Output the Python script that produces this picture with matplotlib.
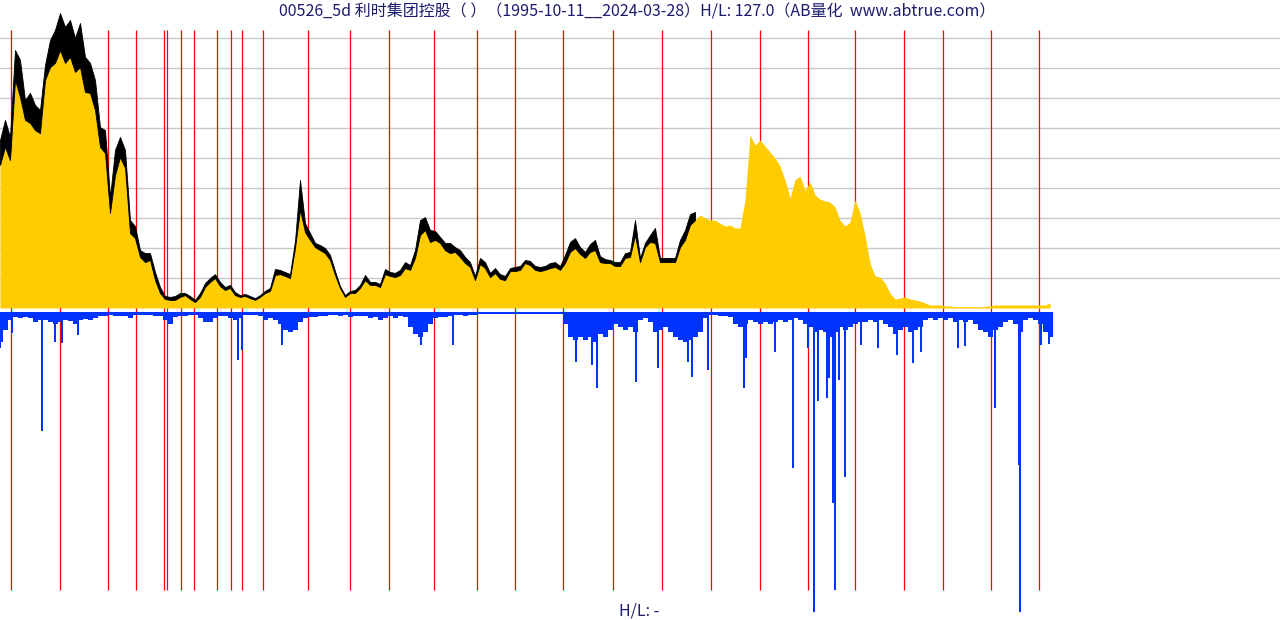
import matplotlib
matplotlib.use("Agg")
import matplotlib.pyplot as plt
import numpy as np

plt.rcParams['font.family'] = ['Noto Sans CJK SC', 'DejaVu Sans']

title = "00526_5d 利时集团控股（ ）（1995-10-11__2024-03-28）H/L: 127.0（AB量化  www.abtrue.com）"

# close price, one sample per bar group (5-day bars, resampled)
close = [
    4.77, 5.37, 4.93, 7.60, 7.03, 6.27, 6.17, 5.93, 5.83, 7.60,
    8.03, 8.17, 8.60, 8.17, 8.37, 7.87, 8.03, 7.20, 7.17, 6.60,
    5.37, 5.17, 3.17, 4.43, 5.03, 4.67, 2.50, 2.33, 1.70, 1.53,
    1.60, 0.93, 0.50, 0.30, 0.27, 0.27, 0.37, 0.43, 0.30, 0.20,
    0.37, 0.70, 0.87, 1.00, 0.73, 0.60, 0.67, 0.43, 0.37, 0.40,
    0.33, 0.27, 0.37, 0.50, 0.57, 1.10, 1.13, 1.07, 1.00, 2.00,
    3.27, 2.53, 2.27, 2.03, 1.93, 1.83, 1.60, 1.10, 0.67, 0.37,
    0.50, 0.50, 0.67, 0.93, 0.77, 0.77, 0.70, 1.13, 1.07, 1.03,
    1.10, 1.33, 1.27, 1.67, 2.43, 2.60, 2.20, 2.27, 2.17, 1.93,
    1.83, 1.87, 1.70, 1.50, 1.37, 0.93, 1.47, 1.33, 1.03, 1.17,
    0.97, 0.93, 1.23, 1.23, 1.27, 1.50, 1.43, 1.27, 1.23, 1.27,
    1.33, 1.37, 1.27, 1.50, 1.87, 2.00, 1.80, 1.67, 1.87, 1.93,
    1.53, 1.50, 1.50, 1.40, 1.40, 1.67, 1.70, 2.43, 1.53, 2.03,
    2.20, 2.17, 1.53, 1.53, 1.53, 1.53, 2.03, 2.27, 2.77, 2.93,
    3.10, 3.00, 2.93, 2.93, 2.83, 2.73, 2.77, 2.67, 2.67, 3.60,
    5.77, 5.43, 5.60, 5.40, 5.20, 5.00, 4.73, 4.27, 3.67, 4.27,
    4.40, 3.93, 4.20, 3.77, 3.63, 3.57, 3.53, 3.37, 2.93, 2.73,
    2.87, 3.60, 3.17, 2.43, 1.50, 1.07, 1.03, 0.83, 0.50, 0.30,
    0.33, 0.37, 0.30, 0.27, 0.23, 0.17, 0.10, 0.10, 0.10, 0.07,
    0.07, 0.05, 0.05, 0.05, 0.05, 0.05, 0.04, 0.05, 0.07, 0.10,
    0.10, 0.10, 0.10, 0.10, 0.10, 0.10, 0.10, 0.10, 0.10, 0.10,
    0.17,
]

# high price, only shown for the early part of the history
high = [
    5.60, 6.27, 5.70, 8.60, 8.27, 6.93, 7.17, 6.77, 6.60, 8.10,
    8.93, 9.27, 9.83, 9.37, 9.60, 9.00, 9.50, 8.37, 8.17, 7.60,
    6.03, 5.93, 3.70, 5.27, 5.70, 5.27, 2.93, 2.73, 1.93, 1.83,
    1.83, 1.20, 0.70, 0.40, 0.37, 0.40, 0.50, 0.50, 0.40, 0.27,
    0.50, 0.83, 1.00, 1.13, 0.87, 0.70, 0.77, 0.53, 0.43, 0.47,
    0.40, 0.33, 0.43, 0.57, 0.67, 1.30, 1.27, 1.20, 1.13, 2.23,
    4.27, 2.83, 2.50, 2.17, 2.10, 2.00, 1.77, 1.23, 0.73, 0.43,
    0.57, 0.60, 0.77, 1.10, 0.87, 0.87, 0.80, 1.30, 1.20, 1.17,
    1.27, 1.53, 1.43, 1.93, 2.93, 3.03, 2.60, 2.57, 2.37, 2.17,
    2.17, 2.03, 1.93, 1.70, 1.53, 1.07, 1.67, 1.53, 1.17, 1.33,
    1.13, 1.07, 1.33, 1.37, 1.40, 1.60, 1.57, 1.40, 1.37, 1.40,
    1.50, 1.53, 1.40, 1.77, 2.20, 2.33, 2.03, 1.87, 2.13, 2.27,
    1.73, 1.63, 1.60, 1.53, 1.53, 1.83, 1.87, 2.93, 1.67, 2.17,
    2.43, 2.67, 1.67, 1.67, 1.67, 1.67, 2.27, 2.60, 3.13, 3.20,
]

volume = [
    30, 18, 8, 5, 6, 5, 6, 10, 8, 8,
    10, 12, 10, 8, 9, 12, 8, 7, 8, 6,
    4, 4, 3, 4, 4, 4, 6, 3, 3, 3,
    3, 4, 4, 8, 12, 5, 4, 4, 3, 3,
    6, 10, 10, 6, 4, 4, 6, 8, 6, 3,
    3, 3, 4, 8, 6, 8, 12, 18, 20, 18,
    10, 6, 5, 5, 4, 4, 3, 3, 4, 3,
    5, 4, 4, 4, 6, 5, 8, 6, 4, 6,
    4, 5, 15, 22, 25, 20, 12, 6, 5, 5,
    4, 3, 3, 4, 3, 3, 2, 2, 2, 2,
    2, 2, 2, 2, 2, 2, 2, 2, 2, 2,
    2, 2, 2, 12, 25, 28, 25, 28, 25, 30,
    22, 25, 18, 12, 15, 18, 15, 20, 8, 6,
    10, 20, 18, 15, 20, 25, 28, 30, 28, 25,
    20, 6, 3, 3, 4, 4, 5, 12, 15, 12,
    8, 10, 12, 10, 12, 10, 8, 10, 8, 6,
    8, 12, 15, 20, 18, 20, 25, 20, 15, 18,
    15, 12, 10, 10, 8, 10, 8, 12, 15, 22,
    18, 15, 20, 18, 15, 8, 6, 8, 6, 8,
    6, 10, 8, 10, 8, 12, 18, 20, 25, 18,
    15, 10, 8, 12, 20, 8, 6, 8, 12, 20,
    25,
]

# single heavy-volume bars
spike_pos = [0, 2.4, 8.4, 11, 12.4, 15.6, 47.6, 48.4, 56.4, 84.2, 90.6,
             115.2, 118.4, 119.4, 127.2, 131.6, 137.6, 138.4, 141.6, 148.8,
             149.2, 155, 158.6, 161.6, 162.8, 163.6, 165.4, 165.8, 166.6,
             167, 167.8, 169, 172.2, 175.6, 179.4, 182.6, 184.2, 191.6, 193,
             199, 203.8, 204, 208.2, 209.8]
spike_vol = [36, 21, 119, 30, 31, 23, 48, 38, 33, 33, 33,
             50, 53, 76, 70, 56, 50, 65, 58, 76,
             46, 40, 156, 36, 300, 89, 86, 66, 191,
             278, 68, 165, 33, 36, 43, 51, 40, 36, 34,
             96, 153, 300, 33, 32]

# marker lines (bar positions)
marks = [2.2, 12, 21.6, 27.2, 32.8, 33.4, 36.2, 38.8, 43.4, 46.2, 48.4,
         52.6, 61.6, 70, 77.8, 86.8, 95.4, 103, 112.6, 122.6, 132.4,
         142.2, 152, 161.6, 171, 180.8, 188.6, 198.2, 207.8]

x = np.arange(len(close))
xh = np.arange(len(high))

fig = plt.figure(figsize=(12.8, 6.2), dpi=100)
ax = fig.add_axes([0, 0, 1, 1])
ax.set_xlim(0, 256)
ax.set_ylim(-10.4, 10.267)
ax.axis('off')

for g in range(1, 10):
    ax.axhline(g, color='#c8c8c8', lw=1, zorder=0)

ax.vlines(marks, -9.4, 9.267, color='#ff0000', lw=0.9, zorder=1)

ax.fill_between(x, 0, close, color='#ffcc00', lw=0, zorder=2)
ax.fill_between(xh, close[:len(high)], high, color='black', lw=0.6, edgecolor='black', zorder=3)

ax2 = ax.twinx()
ax2.set_ylim(308, -312)
ax2.axis('off')
ax2.bar(x, volume, width=1.0, color='#0033ff', lw=0)
ax2.bar(spike_pos, spike_vol, width=0.3, color='#0033ff', lw=0)

fig.text(0.4977, 1 - 12 / 620, title, ha='center', va='center', fontsize=11.5, color='#1c1c6e')
fig.text(0.4992, 1 - 611 / 620, "H/L: -", ha='center', va='center', fontsize=11.5, color='#1c1c6e')

plt.savefig("out.png", dpi=100)
